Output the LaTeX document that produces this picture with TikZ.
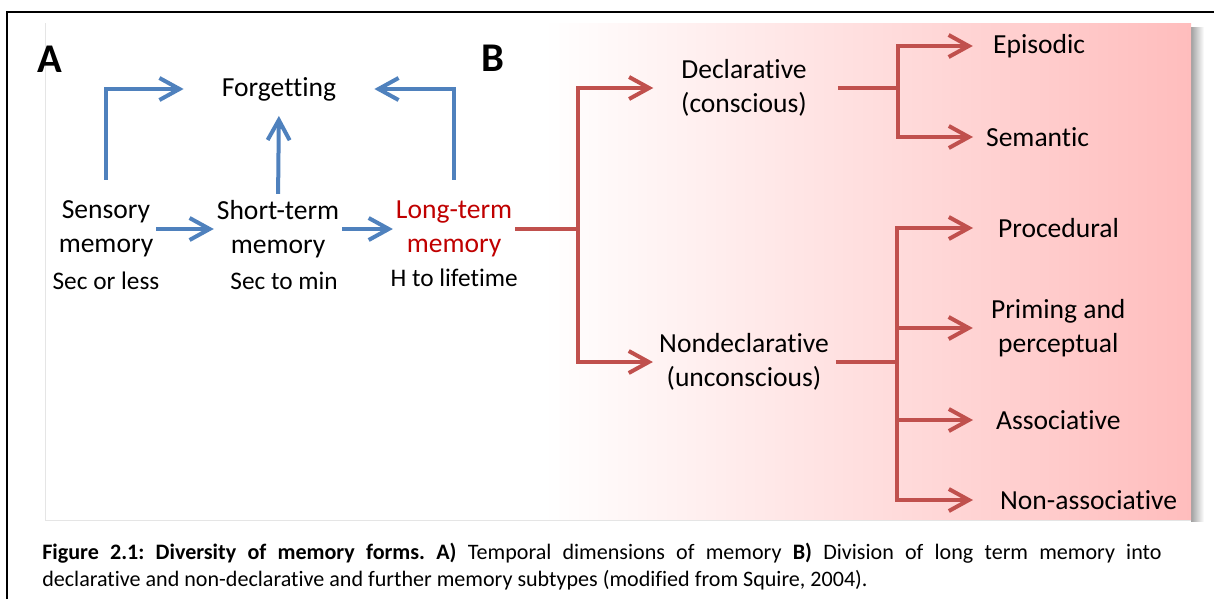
\documentclass[tikz,border=0pt]{standalone}
\usepackage{fontspec}
\setmainfont{Carlito}[Ligatures=NoCommon]
\usetikzlibrary{arrows.meta}
\definecolor{color_blue}{HTML}{4F81BD}
\definecolor{color_red}{HTML}{C0504D}
\definecolor{color_ltm}{HTML}{C00000}
\definecolor{color_pink}{HTML}{FFBDBD}
\definecolor{color_shadow}{HTML}{A0A0A0}
\frenchspacing

\begin{document}
\begin{tikzpicture}[x=0.025cm, y=-0.025cm, node distance=4.3cm, align=center, inner sep=2pt]
  \tikzset{ % Specifications for style of nodes and arrows:
      memlabel/.style = {font=\fontsize{19.6}{24.2}\selectfont, text centered},
      timelabel/.style = {font=\fontsize{18}{22}\selectfont, node distance=1.3cm},
      panelhead/.style = {font=\bfseries\fontsize{29}{32}\selectfont},
      leaf/.style = {memlabel, anchor=west},
      memline/.style = {line width=1mm},
      bluearrow/.style = {memline, draw=color_blue, -{Straight Barb[length=5mm, width=5.5mm]}},
      redline/.style = {memline, draw=color_red},
      redarrow/.style = {redline, -{Straight Barb[length=5mm, width=5.5mm]}},
  }
  \useasboundingbox (0,0) rectangle (1214,599);
  \fill[white] (0,0) rectangle (1214,599);
  \draw[line width=0.5mm] (7,599) -- (7,12) -- (1214,12);

  % panel with shading
  \shade[left color=color_shadow, right color=white] (1191,27) rectangle (1204,521);
  \fill[white] (45,23) rectangle (545,520);
  \shade[left color=white, right color=color_pink] (544,23) rectangle (1191,520);
  \draw[black!10] (45,23) -- (45,520) -- (1191,520);

  \node (A) [panelhead] at (50,59) {A};
  \node (B) [panelhead] at (493,58) {B};

  % A) temporal dimensions
  \node (forgetting) [memlabel, inner xsep=0.95cm] at (279,89) {Forgetting};
  \node (sensory) [memlabel] at (106,229) {Sensory\\memory};
  \node (shortterm) [memlabel, right of=sensory] {Short-term\\memory};
  \node (longterm) [memlabel, text=color_ltm, right of=shortterm, xshift=0.1cm] {Long-term\\memory};
  \node (sensorytime) [timelabel, below of=sensory] {Sec or less};
  \node (shorttime) [timelabel, below of=shortterm, xshift=0.15cm] {Sec to min};
  \node (longtime) [timelabel, below of=longterm, yshift=0.07cm] {H to lifetime};

  \draw[bluearrow, shorten <=0.45cm] (sensory.north) |- (forgetting.west);
  \draw[bluearrow, shorten >=0.3cm, shorten <=0.08cm] (shortterm.north) -- (forgetting.south);
  \draw[bluearrow, shorten <=0.45cm] (longterm.north) |- (forgetting.east);
  \draw[bluearrow] (sensory.east) -- (shortterm.west);
  \draw[bluearrow] (shortterm.east) -- (longterm.west);

  % B) long term memory
  \node (declarative) [memlabel] at (744,88) {Declarative\\(conscious)};
  \node (nondeclarative) [memlabel] at (744,362) {Nondeclarative\\(unconscious)};
  \node (episodic) [leaf] at (990,46) {Episodic};
  \node (semantic) [leaf] at (983,137) {Semantic};
  \node (procedural) [leaf] at (995,228) {Procedural};
  \node (priming) [leaf] at (988,328) {Priming and\\perceptual};
  \node (associative) [leaf] at (993,420) {Associative};
  \node (nonassociative) [leaf] at (997,500) {Non-associative};

  \coordinate (ltmfork) at ([xshift=1.575cm]longterm.east);
  \coordinate (declfork) at ([xshift=2.2cm]declarative.east);
  \coordinate (nondeclfork) at ([xshift=1.625cm]nondeclarative.east);

  \draw[redline] (longterm.east) -- (ltmfork);
  \draw[redarrow, shorten >=0.62cm] (ltmfork) |- (declarative.west);
  \draw[redarrow, shorten >=0.08cm] (ltmfork) |- (nondeclarative.west);

  \draw[redline, shorten <=0.7cm] (declarative.east) -- (declfork);
  \draw[redarrow, shorten >=0.43cm] (declfork) |- (episodic.west);
  \draw[redarrow, shorten >=0.25cm] (declfork) |- (semantic.west);

  \draw[redline, shorten <=0.1cm] (nondeclarative.east) -- (nondeclfork);
  \draw[redarrow, shorten >=0.55cm] (nondeclfork) |- (procedural.west);
  \draw[redarrow, shorten >=0.38cm] (nondeclfork) |- (priming.west);
  \draw[redarrow, shorten >=0.5cm] (nondeclfork) |- (associative.west);
  \draw[redarrow, shorten >=0.6cm] (nondeclfork) |- (nonassociative.west);

  % caption
  \node (caption) [anchor=north west, align=left, inner sep=0pt, font=\fontsize{15.7}{18.8}\selectfont] at (42,543)
    {\makebox[27.975cm][s]{\textbf{Figure 2.1: Diversity of memory forms. A)} Temporal dimensions of memory \textbf{B)} Division of long term memory into}\\
     declarative and non-declarative and further memory subtypes (modified from Squire, 2004).};
\end{tikzpicture}
\end{document}
